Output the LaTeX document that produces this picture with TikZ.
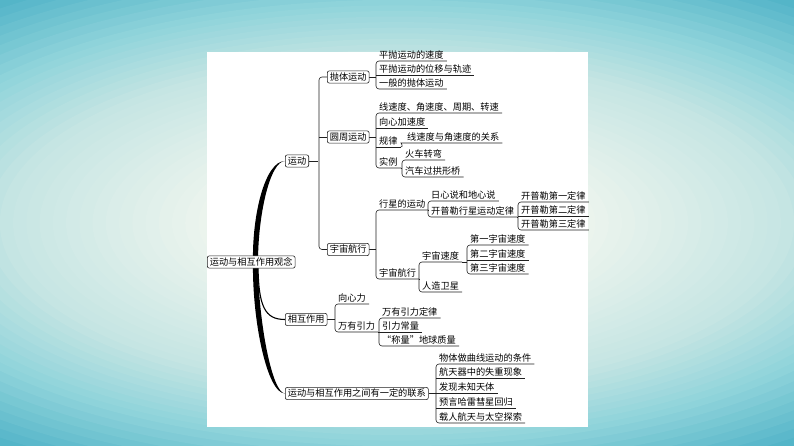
\documentclass[tikz,border=0pt]{standalone}
\usepackage{fontspec}
\newfontfamily\cjk{Noto Sans CJK SC}
\usetikzlibrary{calc}

\definecolor{tealEdge}{HTML}{45ADC4}
\definecolor{tealTop}{HTML}{8ED3DA}
\definecolor{tealSide}{HTML}{C5E5E3}
\definecolor{paleCenter}{HTML}{EEF5EE}
\definecolor{inkLine}{HTML}{202020}

\pgfdeclarelayer{back}
\pgfdeclarelayer{lines}
\pgfsetlayers{back,lines,main}

\begin{document}
\begin{tikzpicture}[x=1pt,y=-1pt,
    box/.style={draw=inkLine,fill=white,rounded corners=2pt,line width=0.6pt,inner xsep=2.5pt,inner ysep=1.5pt,text height=8pt,text depth=1.2pt,font=\cjk\fontsize{9.2pt}{10pt}\selectfont},
    leaf/.style={anchor=south west,inner xsep=3pt,inner ysep=1pt,text height=8pt,text depth=1.2pt,font=\cjk\fontsize{9.2pt}{10pt}\selectfont},
    link/.style={draw=inkLine,line width=0.6pt,rounded corners=3pt},
    trunk/.style={fill=black}]
    \useasboundingbox (0,0) rectangle (794,446);
    \begin{pgfonlayer}{back}
        \begin{scope}
            \clip (0,0) rectangle (794,446);
            \fill[tealEdge] (0,0) rectangle (794,446);
            % soft glow, from the edge inwards
            \foreach \k in {0,...,10} {
                \pgfmathsetmacro\s{1.05-0.025*\k}
                \pgfmathsetmacro\p{10*\k}
                \fill[tealTop!\p!tealEdge] (397,223) ellipse [x radius=662*\s pt, y radius=279*\s pt];
            }
            \foreach \k in {1,...,10} {
                \pgfmathsetmacro\s{0.8-0.02*\k}
                \pgfmathsetmacro\p{10*\k}
                \fill[tealSide!\p!tealTop] (397,223) ellipse [x radius=662*\s pt, y radius=279*\s pt];
            }
            \foreach \k in {1,...,16} {
                \pgfmathsetmacro\s{0.6-0.02*\k}
                \pgfmathsetmacro\p{6.25*\k}
                \fill[paleCenter!\p!tealSide] (397,223) ellipse [x radius=662*\s pt, y radius=279*\s pt];
            }
        \end{scope}
        \fill[white] (207,52) rectangle (588,427);
    \end{pgfonlayer}

    % main boxes
    \node[box,anchor=west] (root) at (207,262) {运动与相互作用观念};
    \node[box,anchor=west] (motion) at (285,161) {运动};
    \node[box,anchor=west] (interaction) at (285,319.5) {相互作用};
    \node[box,anchor=west] (relation) at (285,393.5) {运动与相互作用之间有一定的联系};

    \node[box,anchor=west] (projectile) at (327,77) {抛体运动};
    \node[box,anchor=west] (circular) at (327,137) {圆周运动};
    \node[box,anchor=west] (spaceFlight) at (327,249.5) {宇宙航行};

    % projectile
    \node[leaf] (projVel) at (376,61) {平抛运动的速度};
    \node[leaf] (projDisp) at (376,75) {平抛运动的位移与轨迹};
    \node[leaf] (projGeneral) at (376,89) {一般的抛体运动};

    % circular
    \node[leaf] (circQty) at (376,113) {线速度、角速度、周期、转速};
    \node[leaf] (circAcc) at (376,128) {向心加速度};
    \node[leaf] (circRule) at (376,147) {规律};
    \node[leaf] (circCase) at (376,168) {实例};
    \node[leaf] (ruleRel) at (404,143) {线速度与角速度的关系};
    \node[leaf] (caseTrain) at (402,160) {火车转弯};
    \node[leaf] (caseBridge) at (402,177) {汽车过拱形桥};

    % space flight
    \node[leaf] (planetMotion) at (376,210) {行星的运动};
    \node[leaf] (spaceSub) at (376,279) {宇宙航行};
    \node[leaf] (helio) at (428,201) {日心说和地心说};
    \node[leaf] (keplerLaws) at (428,217) {开普勒行星运动定律};
    \node[leaf] (kepler1) at (518,202) {开普勒第一定律};
    \node[leaf] (kepler2) at (518,216) {开普勒第二定律};
    \node[leaf] (kepler3) at (518,230) {开普勒第三定律};
    \node[leaf] (cosmicVel) at (419,262) {宇宙速度};
    \node[leaf] (satellite) at (419,292) {人造卫星};
    \node[leaf] (vel1) at (467,245) {第一宇宙速度};
    \node[leaf] (vel2) at (467,260) {第二宇宙速度};
    \node[leaf] (vel3) at (467,274) {第三宇宙速度};

    % interaction
    \node[leaf] (centripetal) at (335,304) {向心力};
    \node[leaf] (gravitation) at (335,332) {万有引力};
    \node[leaf] (gravLaw) at (379,318) {万有引力定律};
    \node[leaf] (gravConst) at (379,332) {引力常量};
    \node[leaf] (weighEarth) at (379,346) {“称量”地球质量};

    % relation
    \node[leaf] (cond) at (436,364) {物体做曲线运动的条件};
    \node[leaf] (weightless) at (436,378) {航天器中的失重现象};
    \node[leaf] (unknownBody) at (436,393) {发现未知天体};
    \node[leaf] (halley) at (436,408) {预言哈雷彗星回归};
    \node[leaf] (mannedFlight) at (436,423) {载人航天与太空探索};

    \begin{pgfonlayer}{lines}
        % trunk
        \coordinate (hub) at (258,262);
        \fill[trunk] (hub) .. controls +(0,-47) and +(-15,0) .. (motion.west) .. controls +(-20,0) and +(-1,-47) .. ($(hub)+(-5,0)$) -- cycle;
        \fill[trunk] (hub) .. controls +(0,58) and +(-13,0) .. (relation.west) .. controls +(-18,0) and +(-1,58) .. ($(hub)+(-5,0)$) -- cycle;
        \draw[black,line width=1.1pt] (hub) .. controls +(0,45) and +(-20,0) .. (interaction.west);

        % motion
        \draw[link] (motion.east) -- ++(9,0);
        \draw[link] (projectile.west) -- ++(-8,0) |- (spaceFlight.west);
        \draw[link] (circular.west) -- ++(-8,0);

        \draw[link] (projectile.east) -- (projectile.east -| projVel.south west);
        \draw[link] (projVel.south east) -- (projVel.south west) -- (projGeneral.south west) -- (projGeneral.south east);
        \draw[link] (projDisp.south west) -- (projDisp.south east);

        \draw[link] (circular.east) -- (circular.east -| circQty.south west);
        \draw[link] (circQty.south east) -- (circQty.south west) -- (circCase.south west) -- (circCase.south east);
        \foreach \n in {circAcc,circRule}
            \draw[link] (\n.south west) -- (\n.south east);
        \draw[link] (circRule.south east) .. controls +(3,0) and +(-3,0) .. (ruleRel.south west) -- (ruleRel.south east);
        \draw[link] (circCase.south east) -- (circCase.south east -| caseTrain.south west);
        \draw[link] (caseTrain.south east) -- (caseTrain.south west) -- (caseBridge.south west) -- (caseBridge.south east);

        \draw[link] (spaceFlight.east) -- (spaceFlight.east -| planetMotion.south west);
        \draw[link] (planetMotion.south east) -- (planetMotion.south west) -- (spaceSub.south west) -- (spaceSub.south east);
        \draw[link] (planetMotion.south east) -- (planetMotion.south east -| helio.south west);
        \draw[link] (helio.south east) -- (helio.south west) -- (keplerLaws.south west) -- (keplerLaws.south east);
        \draw[link] (keplerLaws.south east) -- (keplerLaws.south east -| kepler1.south west);
        \draw[link] (kepler1.south east) -- (kepler1.south west) -- (kepler3.south west) -- (kepler3.south east);
        \draw[link] (kepler2.south west) -- (kepler2.south east);
        \draw[link] (spaceSub.south east) -- (spaceSub.south east -| cosmicVel.south west);
        \draw[link] (cosmicVel.south east) -- (cosmicVel.south west) -- (satellite.south west) -- (satellite.south east);
        \draw[link] (cosmicVel.south east) -- (cosmicVel.south east -| vel1.south west);
        \draw[link] (vel1.south east) -- (vel1.south west) -- (vel3.south west) -- (vel3.south east);
        \draw[link] (vel2.south west) -- (vel2.south east);

        % interaction
        \draw[link] (interaction.east) -- (interaction.east -| centripetal.south west);
        \draw[link] (centripetal.south east) -- (centripetal.south west) -- (gravitation.south west) -- (gravitation.south east);
        \draw[link] (gravitation.south east) -- (gravitation.south east -| gravLaw.south west);
        \draw[link] (gravLaw.south east) -- (gravLaw.south west) -- (weighEarth.south west) -- (weighEarth.south east);
        \draw[link] (gravConst.south west) -- (gravConst.south east);

        % relation
        \draw[link] (relation.east) -- (relation.east -| cond.south west);
        \draw[link] (cond.south east) -- (cond.south west) -- (mannedFlight.south west) -- (mannedFlight.south east);
        \foreach \n in {weightless,unknownBody,halley}
            \draw[link] (\n.south west) -- (\n.south east);
    \end{pgfonlayer}
\end{tikzpicture}
\end{document}
